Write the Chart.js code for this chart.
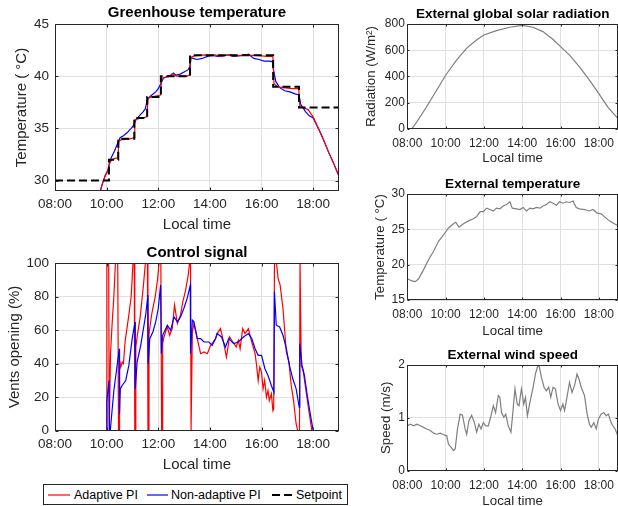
<!DOCTYPE html>
<html>
<head>
<meta charset="utf-8">
<script src="https://cdn.jsdelivr.net/npm/chart.js"></script>
<style>
  html, body { margin: 0; padding: 0; background: #fff; overflow: hidden; }
  body { width: 618px; height: 506px; position: relative; font-family: "Liberation Sans", Arial, sans-serif; }
  canvas { position: absolute; }
  #legend { position: absolute; left: 43px; top: 484px; width: 303px; height: 19px; border: 1px solid #262626; background: #fff; }
  #legend .t { position: absolute; top: 2px; font-size: 12.5px; line-height: 16px; color: #000; white-space: nowrap; }
  #legend svg { position: absolute; left: 0; top: 0; }
</style>
</head>
<body>
<canvas id="c1" width="345" height="234" style="left:0;top:0"></canvas>
<canvas id="c2" width="345" height="234" style="left:0;top:240px"></canvas>
<canvas id="c3" width="266" height="166" style="left:352px;top:0"></canvas>
<canvas id="c4" width="266" height="169" style="left:352px;top:170px"></canvas>
<canvas id="c5" width="266" height="169" style="left:352px;top:340px"></canvas>

<div id="legend">
  <svg width="303" height="19">
    <line x1="4" y1="10" x2="26" y2="10" stroke="#ff0000" stroke-width="1.2"/>
    <line x1="103" y1="10" x2="124" y2="10" stroke="#0000ff" stroke-width="1.2"/>
    <line x1="228" y1="10" x2="248" y2="10" stroke="#000" stroke-width="2" stroke-dasharray="8,4"/>
  </svg>
  <span class="t" style="left:30px">Adaptive PI</span>
  <span class="t" style="left:127px">Non-adaptive PI</span>
  <span class="t" style="left:252px">Setpoint</span>
</div>

<script>
// ---- data (hours of the day) ----
const hourTicks = [8, 10, 12, 14, 16, 18];

// greenhouse temperature
const spTime = [8, 10.09, 10.45, 11.07, 11.57, 12.1, 13.23, 16.45, 17.45, 19];
const spTemp = [30, 32, 34, 36, 38, 40, 42, 39, 37, 37];

const adTime = [9.74, 9.85, 9.95, 10.05, 10.1, 10.2, 10.3, 10.44, 10.47, 10.55, 10.7, 10.9, 11.06, 11.09, 11.2, 11.4, 11.56, 11.6, 11.7, 11.9,
  12.09, 12.13, 12.3, 12.45, 12.55, 12.7, 12.9, 13.1, 13.22, 13.26, 13.4, 13.6, 13.8, 14.0, 14.2, 14.4, 14.6, 14.8, 15.0, 15.2,
  15.4, 15.6, 15.8, 16.0, 16.2, 16.44, 16.48, 16.6, 16.8, 17.0, 17.2, 17.44, 17.48, 17.6, 17.8, 18.0, 18.2, 18.4, 18.6, 18.8, 19.0];
const adTemp = [28.9, 29.8, 30.5, 30.9, 31.6, 32.0, 32.1, 32.2, 33.7, 33.9, 33.95, 34.0, 34.1, 35.8, 35.9, 36.0, 36.1, 37.8, 38.0, 38.1,
  38.2, 39.8, 39.9, 40.0, 40.25, 40.0, 40.0, 40.0, 40.1, 41.8, 41.95, 42.0, 42.05, 42.0, 42.05, 41.9, 42.0, 42.05, 41.95, 42.0,
  42.05, 42.0, 42.0, 41.95, 41.9, 41.9, 39.3, 39.0, 38.9, 38.85, 38.8, 38.8, 37.2, 37.0, 36.8, 36.1, 35.0, 33.9, 32.7, 31.6, 30.4];

const naTime = [9.74, 9.85, 9.95, 10.05, 10.12, 10.2, 10.3, 10.4, 10.52, 10.65, 10.8, 10.95, 11.05, 11.15, 11.3, 11.42, 11.5, 11.57, 11.65, 11.75,
  11.9, 12.0, 12.1, 12.2, 12.35, 12.5, 12.58, 12.7, 12.85, 13.0, 13.15, 13.22, 13.27, 13.35, 13.5, 13.7, 13.9, 14.1, 14.3, 14.5,
  14.7, 14.9, 15.1, 15.3, 15.5, 15.7, 15.9, 16.1, 16.3, 16.42, 16.47, 16.55, 16.7, 16.9, 17.1, 17.3, 17.45, 17.52, 17.6, 17.7,
  17.85, 18.0, 18.2, 18.4, 18.6, 18.8, 19.0];
const naTemp = [28.9, 29.8, 30.5, 31.0, 31.8, 32.3, 32.8, 33.4, 34.1, 34.3, 34.6, 35.0, 35.3, 35.9, 36.3, 36.6, 36.9, 37.7, 38.0, 38.2,
  38.5, 38.8, 39.3, 39.8, 40.0, 40.1, 40.3, 40.1, 40.2, 40.4, 40.6, 40.9, 41.8, 41.7, 41.6, 41.7, 41.9, 42.0, 41.9, 41.95,
  42.05, 41.9, 41.95, 42.0, 42.1, 41.7, 41.6, 41.45, 41.45, 41.4, 40.5, 39.5, 38.9, 38.6, 38.5, 38.3, 38.2, 37.3, 37.0, 36.6,
  36.2, 36.0, 35.0, 33.9, 32.7, 31.6, 30.4];

// control signal (vents opening %)
const adCtrlTime = [8.0, 10.0, 10.01, 10.08, 10.1, 10.13, 10.15, 10.22, 10.28, 10.34, 10.43, 10.46, 10.48, 10.5, 10.55, 10.6, 10.65, 10.72, 10.85, 10.95,
  11.02, 11.07, 11.09, 11.11, 11.13, 11.2, 11.3, 11.42, 11.5, 11.58, 11.6, 11.62, 11.64, 11.75, 11.88, 11.97, 12.03, 12.1, 12.13, 12.15,
  12.17, 12.22, 12.35, 12.44, 12.54, 12.63, 12.74, 12.86, 12.95, 13.06, 13.16, 13.21, 13.25, 13.27, 13.29, 13.32, 13.38, 13.51, 13.64, 13.77,
  13.9, 14.03, 14.22, 14.28, 14.41, 14.5, 14.64, 14.76, 14.89, 15.02, 15.1, 15.17, 15.27, 15.36, 15.49, 15.62, 15.75, 15.8, 15.87, 15.93,
  16.0, 16.06, 16.12, 16.19, 16.25, 16.3, 16.38, 16.44, 16.47, 16.5, 16.58, 16.64, 16.72, 16.83, 16.96, 17.06, 17.15, 17.24, 17.34, 17.4,
  17.47, 17.49, 17.51, 17.54, 17.62, 17.72, 17.85, 17.95, 19.0];
const adCtrl = [0, 0, 100, 100, 0, 0, 46, 66, 80, 100, 100, 0, 0, 42, 38, 41, 40, 54, 68, 80,
  100, 100, 0, 0, 50, 58, 68, 86, 100, 100, 0, 0, 58, 70, 80, 90, 100, 100, 0, 0,
  52, 56, 62, 57, 61, 75, 64, 69, 77, 84, 93, 100, 100, 0, 0, 59, 64, 55, 46, 47,
  46, 51, 55, 58, 61, 55, 44, 56, 53, 50, 54, 49, 61, 58, 61, 53, 46, 40, 30, 38,
  35, 25, 30, 20, 24, 18, 22, 12, 13, 100, 100, 91, 87, 73, 47, 41, 27, 18, 4, 0,
  0, 100, 100, 39, 35, 24, 10, 0, 0];

const naCtrlTime = [8.0, 10.0, 10.01, 10.05, 10.09, 10.11, 10.14, 10.28, 10.39, 10.49, 10.5, 10.53, 10.6, 10.74, 10.86, 10.99, 11.1, 11.11, 11.18, 11.32,
  11.51, 11.6, 11.61, 11.67, 11.79, 11.9, 12.0, 12.09, 12.12, 12.17, 12.35, 12.48, 12.61, 12.74, 12.86, 12.99, 13.12, 13.24, 13.25, 13.32,
  13.38, 13.51, 13.64, 13.77, 13.96, 14.09, 14.22, 14.28, 14.45, 14.6, 14.73, 14.92, 15.1, 15.3, 15.49, 15.62, 15.75, 15.87, 16.0, 16.13,
  16.25, 16.38, 16.48, 16.5, 16.57, 16.7, 16.83, 16.96, 17.08, 17.21, 17.34, 17.46, 17.48, 17.57, 17.66, 17.78, 17.91, 18.0, 19.0];
const naCtrl = [0, 0, 18, 24, 30, 0, 0, 24, 37, 49, 10, 25, 27, 30, 39, 55, 65, 25, 41, 51,
  69, 81, 40, 55, 59, 65, 73, 87, 46, 57, 63, 60, 68, 65, 68, 73, 79, 87, 46, 66,
  65, 55, 55, 53, 53, 51, 55, 58, 56, 50, 55, 52, 53, 56, 58, 55, 49, 45, 45, 37,
  33, 27, 23, 83, 63, 62, 57, 49, 39, 31, 25, 14, 52, 39, 33, 20, 8, 0, 0];

// external global solar radiation (W/m2)
const srTime = [8.23, 8.49, 9.0, 9.53, 10.0, 10.57, 11.09, 11.61, 12.0, 12.65, 13.35, 14.0, 14.56, 15.08, 15.6, 16.0, 16.47, 16.99, 17.51, 18.0, 18.47, 18.94, 19.0];
const srRad = [0, 51, 166, 294, 409, 524, 614, 678, 716, 749, 775, 790, 775, 742, 683, 627, 563, 473, 371, 269, 166, 88, 80];

// external temperature (deg C)
const etTime = [8.0, 8.24, 8.42, 8.59, 8.85, 9.11, 9.37, 9.63, 9.89, 10.15, 10.41, 10.53, 10.7, 10.93, 11.19, 11.45, 11.62, 11.8, 11.97, 12.14,
  12.32, 12.49, 12.66, 12.84, 13.0, 13.18, 13.36, 13.48, 13.7, 13.88, 14.05, 14.22, 14.4, 14.57, 14.74, 14.92, 15.09, 15.26, 15.44, 15.61,
  15.78, 15.95, 16.13, 16.3, 16.47, 16.65, 16.82, 16.99, 17.25, 17.51, 17.69, 17.91, 18.12, 18.29, 18.55, 18.81, 19.0];
const etTemp = [18.0, 17.7, 17.6, 18.0, 19.3, 20.7, 21.9, 23.3, 24.2, 25.2, 25.8, 26.0, 25.3, 25.8, 26.2, 26.5, 26.8, 27.5, 27.5, 28.0,
  27.8, 27.6, 28.0, 27.9, 28.3, 28.5, 28.9, 28.0, 27.9, 27.8, 28.1, 27.6, 28.0, 27.9, 28.1, 28.0, 28.3, 28.5, 28.9, 28.7,
  28.4, 28.9, 28.7, 28.9, 28.8, 29.0, 28.1, 27.9, 27.8, 27.6, 27.8, 27.3, 27.2, 26.8, 26.2, 25.8, 25.5];

// external wind speed (m/s)
const wsTime = [8.0, 8.16, 8.33, 8.5, 8.68, 8.85, 9.02, 9.2, 9.37, 9.54, 9.72, 9.89, 10.06, 10.15, 10.29, 10.41, 10.5, 10.62, 10.76, 10.88,
  11.02, 11.1, 11.22, 11.36, 11.5, 11.62, 11.74, 11.85, 11.97, 12.09, 12.23, 12.37, 12.49, 12.61, 12.75, 12.83, 12.92, 13.04, 13.14, 13.27,
  13.41, 13.48, 13.62, 13.74, 13.83, 13.96, 14.08, 14.17, 14.27, 14.4, 14.57, 14.69, 14.79, 14.88, 15.0, 15.14, 15.26, 15.38, 15.49, 15.61,
  15.73, 15.87, 16.0, 16.12, 16.21, 16.35, 16.47, 16.6, 16.73, 16.86, 16.96, 17.08, 17.25, 17.39, 17.51, 17.6, 17.74, 17.86, 17.98, 18.12,
  18.26, 18.38, 18.5, 18.64, 18.73, 18.85, 19.0];
const wsSpeed = [0.85, 0.88, 0.85, 0.88, 0.85, 0.82, 0.79, 0.76, 0.71, 0.69, 0.71, 0.68, 0.66, 0.5, 0.44, 0.38, 0.41, 0.79, 1.07, 1.05,
  0.79, 0.69, 0.95, 1.05, 0.91, 0.73, 0.88, 0.79, 0.91, 0.85, 0.85, 1.04, 1.23, 1.1, 1.42, 1.39, 1.1, 1.01, 1.07, 0.85,
  0.73, 0.98, 1.55, 1.26, 1.23, 1.55, 1.26, 1.39, 1.04, 1.29, 1.58, 1.83, 1.96, 1.99, 1.77, 1.58, 1.51, 1.58, 1.39, 1.58,
  1.55, 1.26, 1.14, 1.26, 1.14, 1.42, 1.67, 1.48, 1.61, 1.83, 1.74, 1.58, 1.42, 1.07, 0.88, 0.82, 0.91, 0.79, 0.98, 1.07,
  1.1, 1.04, 1.07, 0.91, 0.85, 0.79, 0.65];

// ---- styling ----
const FONT = '"Liberation Sans", Arial, sans-serif';
const INK = '#262626';
const GRID = '#e0e0e0';
const RED = '#ff0000';
const BLUE = '#0000ff';
const GRAY = '#7f7f7f';

function pts(xs, ys) {
  return xs.map((x, i) => ({ x: x, y: ys[i] }));
}

function fmtHour(v) {
  return (v < 10 ? '0' : '') + v + ':00';
}

// axes box + small inward ticks, matlab style
const boxPlugin = {
  id: 'box',
  afterDraw(chart, args, opts) {
    const { ctx, chartArea: a } = chart;
    const xs = chart.scales.x, ys = chart.scales.y;
    const L = Math.round(a.left) + 0.5, R = Math.round(a.right) - 0.5;
    const T = Math.round(a.top) + 0.5, B = Math.round(a.bottom) - 0.5;
    const len = opts.len || 3;
    ctx.save();
    ctx.strokeStyle = INK;
    ctx.lineWidth = 1;
    ctx.beginPath();
    xs.ticks.forEach(t => {
      const px = Math.round(xs.getPixelForValue(t.value)) + 0.5;
      ctx.moveTo(px, B); ctx.lineTo(px, B - len);
      ctx.moveTo(px, T); ctx.lineTo(px, T + len);
    });
    ys.ticks.forEach(t => {
      const py = Math.round(ys.getPixelForValue(t.value)) + 0.5;
      ctx.moveTo(L, py); ctx.lineTo(L + len, py);
      ctx.moveTo(R, py); ctx.lineTo(R - len, py);
    });
    ctx.stroke();
    ctx.strokeRect(L, T, R - L, B - T);
    ctx.restore();
  }
};

function panel(id, o) {
  return new Chart(document.getElementById(id), {
    type: 'line',
    data: { datasets: o.datasets },
    options: {
      responsive: false,
      animation: false,
      events: [],
      layout: { padding: { left: 0, right: o.padRight, top: 0, bottom: 0 } },
      elements: { point: { radius: 0 }, line: { tension: 0, borderWidth: 1.2 } },
      plugins: {
        legend: { display: false },
        tooltip: { enabled: false },
        box: { len: o.tickLen },
        title: {
          display: true, text: o.title, color: '#000', fullSize: false,
          font: { family: FONT, size: o.titleSize, weight: 'bold', lineHeight: 1.2 },
          padding: { top: o.titleTop, bottom: o.titleBottom }
        }
      },
      scales: {
        x: {
          type: 'linear', min: 8, max: 19,
          afterBuildTicks: s => { s.ticks = hourTicks.map(v => ({ value: v })); },
          afterFit: s => { s.height = o.xHeight; },
          grid: { color: GRID, drawTicks: false },
          border: { display: false },
          ticks: {
            color: INK, autoSkip: false, maxRotation: 0, minRotation: 0,
            padding: o.xTickPad, callback: v => fmtHour(v),
            font: { family: FONT, size: o.tickSize, lineHeight: o.xTickLH }
          },
          title: {
            display: true, text: 'Local time', color: INK, padding: 0,
            font: { family: FONT, size: o.labelSize, lineHeight: 1.2 }
          }
        },
        y: {
          min: o.yMin, max: o.yMax,
          afterBuildTicks: s => { s.ticks = o.yTicks.map(v => ({ value: v })); },
          afterFit: s => { s.width = o.yWidth; },
          grid: { color: GRID, drawTicks: false },
          border: { display: false },
          ticks: {
            color: INK, autoSkip: false, padding: o.yTickPad,
            callback: v => String(v),
            font: { family: FONT, size: o.tickSize }
          },
          title: {
            display: true, text: o.yTitle, color: INK,
            padding: { top: o.yTitlePad, bottom: 0 },
            font: { family: FONT, size: o.labelSize, lineHeight: 1.2 }
          }
        }
      }
    },
    plugins: [boxPlugin]
  });
}

const left = { padRight: 6, titleSize: 15, tickSize: 13.5, labelSize: 15, xTickLH: 1.2, xTickPad: 5, yTickPad: 6, yWidth: 55, tickLen: 3 };
const right = { padRight: 0, titleSize: 13.5, tickSize: 12, labelSize: 13.3, xTickLH: 2.0, xTickPad: 2.5, yTickPad: 2.5, yWidth: 55.3, tickLen: 2,
  titleTop: 5.9, titleBottom: 1.9 };

panel('c1', Object.assign({}, left, {
  title: 'Greenhouse temperature', titleTop: 4.3, titleBottom: 1.7, xHeight: 43,
  yMin: 29, yMax: 45, yTicks: [30, 35, 40, 45], yTitle: 'Temperature ( °C)', yTitlePad: 13,
  datasets: [
    { label: 'Setpoint', data: pts(spTime, spTemp), borderColor: '#000', borderWidth: 2, borderDash: [8, 4], stepped: 'before' },
    { label: 'Adaptive PI', data: pts(adTime, adTemp), borderColor: RED },
    { label: 'Non-adaptive PI', data: pts(naTime, naTemp), borderColor: BLUE }
  ]
}));

panel('c2', Object.assign({}, left, {
  title: 'Control signal', titleTop: 3.7, titleBottom: 1.6, xHeight: 43.3,
  yMin: 0, yMax: 100, yTicks: [0, 20, 40, 60, 80, 100], yTitle: 'Vents opening (%)', yTitlePad: 6,
  datasets: [
    { label: 'Non-adaptive PI', data: pts(naCtrlTime, naCtrl), borderColor: BLUE },
    { label: 'Adaptive PI', data: pts(adCtrlTime, adCtrl), borderColor: RED }
  ]
}));

panel('c3', Object.assign({}, right, {
  title: 'External global solar radiation', xHeight: 37.2,
  yMin: 0, yMax: 800, yTicks: [0, 200, 400, 600, 800], yTitle: 'Radiation (W/m²)', yTitlePad: 11.7,
  datasets: [{ label: 'Radiation', data: pts(srTime, srRad), borderColor: GRAY }]
}));

panel('c4', Object.assign({}, right, {
  title: 'External temperature', xHeight: 39,
  yMin: 15, yMax: 30, yTicks: [15, 20, 25, 30], yTitle: 'Temperature ( °C)', yTitlePad: 20,
  datasets: [{ label: 'Temperature', data: pts(etTime, etTemp), borderColor: GRAY }]
}));

panel('c5', Object.assign({}, right, {
  title: 'External wind speed', titleTop: 6.9, xHeight: 38.3,
  yMin: 0, yMax: 2, yTicks: [0, 1, 2], yTitle: 'Speed (m/s)', yTitlePad: 26.7,
  datasets: [{ label: 'Speed', data: pts(wsTime, wsSpeed), borderColor: GRAY }]
}));
</script>
</body>
</html>
